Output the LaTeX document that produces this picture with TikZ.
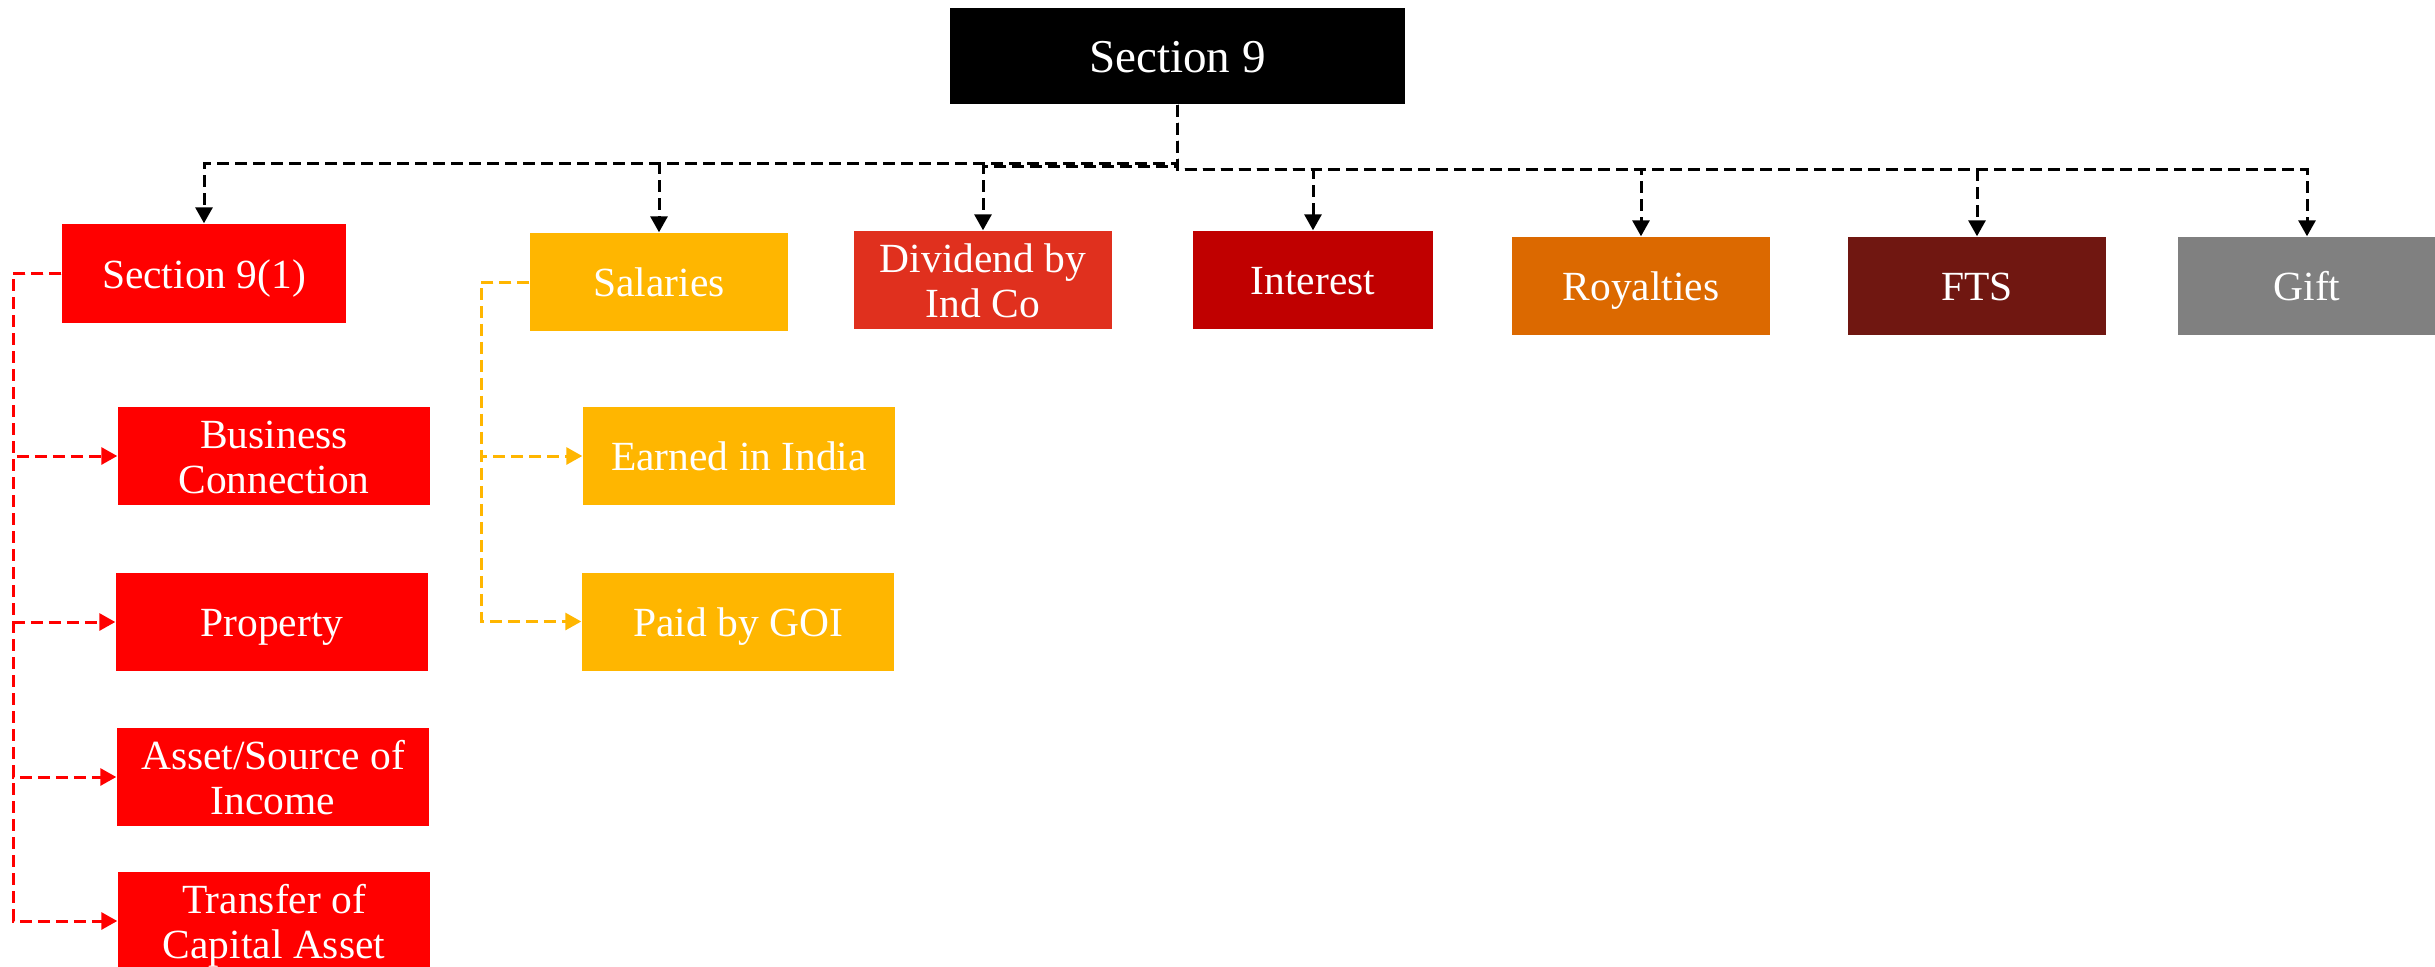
\documentclass[tikz,border=0pt]{standalone}
\usepackage{fontspec}
\setmainfont{Liberation Serif}
\usetikzlibrary{arrows.meta}

\definecolor{cRed}{HTML}{FF0000}
\definecolor{cAmber}{HTML}{FFB600}
\definecolor{cDiv}{HTML}{E0301E}
\definecolor{cInt}{HTML}{C00000}
\definecolor{cRoy}{HTML}{DC6900}
\definecolor{cFts}{HTML}{701711}
\definecolor{cGift}{HTML}{808080}

\tikzset{
  box/.style={rectangle, inner sep=0pt, text=white, align=center,
    minimum height=0.98cm, text height=0.29cm, text depth=0cm,
    font=\fontsize{11.8}{12.8}\selectfont},
  twoline/.style={text height=0.74cm},
  topbox/.style={box, fill=black, minimum width=4.55cm, minimum height=0.96cm,
    text height=0.32cm, font=\fontsize{13.4}{14}\selectfont},
  headbox/.style={box, minimum width=2.58cm},
  subbox/.style={box, minimum width=3.12cm},
  link/.style={dashed, dash pattern=on 0.12cm off 0.06cm, line width=0.03cm,
    -{Triangle[width=0.17cm, length=0.16cm]}},
  toplink/.style={link, draw=black},
  redlink/.style={link, draw=cRed, color=cRed},
  amberlink/.style={link, draw=cAmber, color=cAmber}
}

\begin{document}
\begin{tikzpicture}
\useasboundingbox (0,0) rectangle (24.35,-9.67);
\clip (0,0) rectangle (24.35,-9.67);

% root
\node[topbox] (sec9) at (11.775,-0.56) {Section 9};

% first row of heads
\node[headbox, fill=cRed, minimum width=2.84cm, minimum height=0.99cm] (s91) at (2.04,-2.735) {Section 9(1)};
\node[headbox, fill=cAmber] (sal) at (6.59,-2.82) {Salaries};
\node[headbox, twoline, fill=cDiv] (div) at (9.83,-2.80) {Dividend by\\Ind Co};
\node[headbox, fill=cInt, minimum width=2.40cm] (int) at (13.13,-2.80) {Interest};
\node[headbox, fill=cRoy] (roy) at (16.41,-2.86) {Royalties};
\node[headbox, fill=cFts] (fts) at (19.77,-2.86) {FTS};
\node[headbox, fill=cGift] (gift) at (23.07,-2.86) {Gift};

% Section 9(1) branches
\node[subbox, twoline, fill=cRed] (bus) at (2.74,-4.56) {Business\\Connection};
\node[subbox, fill=cRed] (prop) at (2.72,-6.22) {Property};
\node[subbox, twoline, fill=cRed] (asset) at (2.73,-7.77) {Asset/Source of\\Income};
\node[subbox, twoline, fill=cRed] (trans) at (2.74,-9.21) {Transfer of\\Capital Asset};

% Salaries branches
\node[subbox, fill=cAmber] (earn) at (7.39,-4.56) {Earned in India};
\node[subbox, fill=cAmber] (goi) at (7.38,-6.215) {Paid by GOI};

% root connectors
\draw[toplink] (sec9.south) -- ++(0,-0.59) -| (s91.north);
\draw[toplink] (sec9.south) -- ++(0,-0.59) -| (sal.north);
\draw[toplink] (sec9.south) -- ++(0,-0.62) -| (div.north);
\draw[toplink] (sec9.south) -- ++(0,-0.65) -| (int.north);
\draw[toplink] (sec9.south) -- ++(0,-0.65) -| (roy.north);
\draw[toplink] (sec9.south) -- ++(0,-0.65) -| (fts.north);
\draw[toplink] (sec9.south) -- ++(0,-0.65) -| (gift.north);

% Section 9(1) connectors
\draw[redlink] (s91.west) -- ++(-0.48,0) |- (bus.west);
\draw[redlink] (s91.west) -- ++(-0.48,0) |- (prop.west);
\draw[redlink] (s91.west) -- ++(-0.48,0) |- (asset.west);
\draw[redlink] (s91.west) -- ++(-0.48,0) |- (trans.west);

% Salaries connectors
\draw[amberlink] (sal.west) -- ++(-0.48,0) |- (earn.west);
\draw[amberlink] (sal.west) -- ++(-0.48,0) |- (goi.west);
\end{tikzpicture}
\end{document}
